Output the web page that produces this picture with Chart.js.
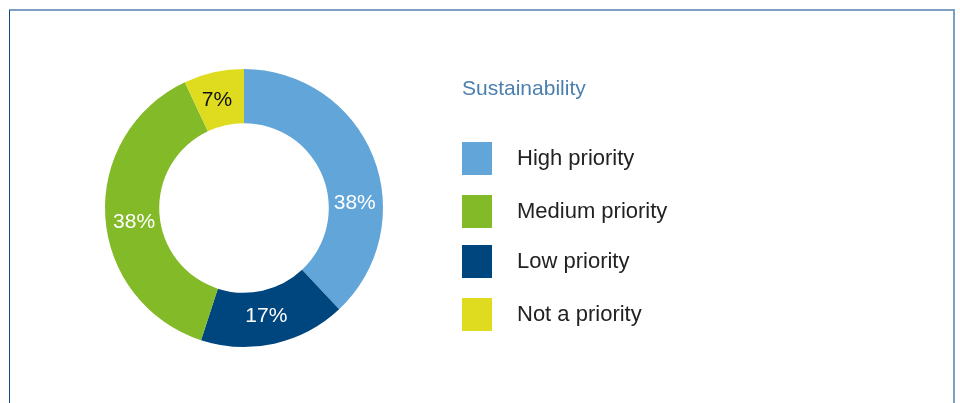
<!DOCTYPE html>
<html>
<head>
<meta charset="utf-8">
<script src="https://cdn.jsdelivr.net/npm/chart.js@4"></script>
<style>
  html, body { margin: 0; padding: 0; background: #fff; }
  #wrap { position: relative; width: 960px; height: 403px; overflow: hidden; }
  #frame {
    position: absolute; left: 9px; top: 9px; width: 943px; height: 392px;
    border-top: 2px solid #7c9fc2;
    border-left: 1px solid #0f4a80;
    border-right: 2px solid #7ba0c6;
  }
  canvas { position: absolute; left: 0; top: 0; }
</style>
</head>
<body>
<div id="wrap">
  <div id="frame"></div>
  <canvas id="sustainChart" width="960" height="403"></canvas>
</div>
<script>
const title = "Sustainability";
const categories = ["High priority", "Medium priority", "Low priority", "Not a priority"];
// drawn clockwise from 12 o'clock
const sliceOrder = ["High priority", "Low priority", "Medium priority", "Not a priority"];
const shares = [38, 17, 38, 7];
const sliceColors = ["#62a5d8", "#00467e", "#83ba28", "#dfdc20"];
const labelColors = ["#ffffff", "#ffffff", "#ffffff", "#111111"];

const FONT = "'Liberation Sans', Arial, Helvetica, sans-serif";

// percentage labels inside the ring
const sliceLabels = {
  id: "sliceLabels",
  afterDatasetsDraw(chart, args, opts) {
    const ctx = chart.ctx;
    const meta = chart.getDatasetMeta(0);
    ctx.save();
    ctx.font = "21px " + FONT;
    ctx.textAlign = "center";
    ctx.textBaseline = "middle";
    meta.data.forEach((arc, i) => {
      const p = arc.getProps(["x", "y", "startAngle", "endAngle", "innerRadius", "outerRadius"], true);
      const a = (p.startAngle + p.endAngle) / 2 + (opts.shift[i] || 0) * Math.PI / 180;
      const r = (p.innerRadius + p.outerRadius) / 2 - 1;
      ctx.fillStyle = labelColors[i];
      ctx.fillText(shares[i] + "%", p.x + r * Math.cos(a), p.y + r * Math.sin(a));
    });
    ctx.restore();
  }
};

// legend block on the right
const sideLegend = {
  id: "sideLegend",
  afterDraw(chart, args, opts) {
    const ctx = chart.ctx;
    ctx.save();
    ctx.textBaseline = "middle";
    ctx.font = "21px " + FONT;
    ctx.fillStyle = "#4b7fae";
    ctx.fillText(title, opts.x, opts.titleY);
    ctx.font = "22px " + FONT;
    categories.forEach((name, k) => {
      const idx = sliceOrder.indexOf(name);
      const top = opts.rows[k];
      ctx.fillStyle = sliceColors[idx];
      ctx.fillRect(opts.x, top, 30, 33);
      ctx.fillStyle = "#222222";
      ctx.fillText(name, opts.x + 55, top + 17);
    });
    ctx.restore();
  }
};

new Chart(document.getElementById("sustainChart"), {
  type: "doughnut",
  data: {
    labels: sliceOrder,
    datasets: [{
      data: shares,
      backgroundColor: sliceColors,
      borderWidth: 0
    }]
  },
  options: {
    responsive: false,
    animation: false,
    cutout: "61%",
    layout: { padding: { left: 105, top: 69, right: 577, bottom: 56 } },
    plugins: {
      legend: { display: false },
      tooltip: { enabled: false },
      sliceLabels: { shift: [19, 1, -4, -1.5] },
      sideLegend: { x: 462, titleY: 89, rows: [142, 195, 245, 298] }
    }
  },
  plugins: [sliceLabels, sideLegend]
});
</script>
</body>
</html>
